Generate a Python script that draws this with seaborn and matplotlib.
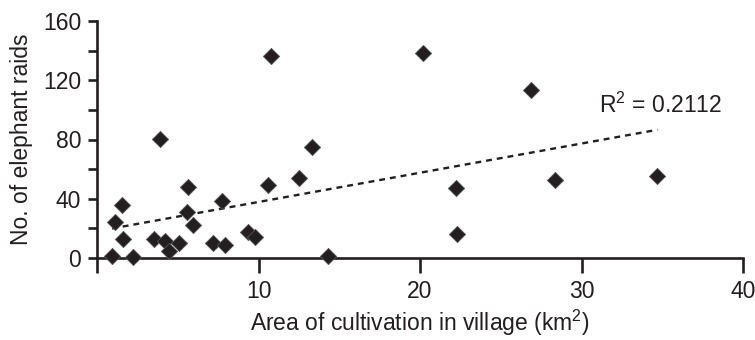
import numpy as np
import pandas as pd
import seaborn as sb
import matplotlib.pyplot as plt
from matplotlib.ticker import MultipleLocator


# площадь посевов (км2) и число набегов слонов
area = [0.93, 1.13, 1.53, 1.59, 2.25, 3.55, 3.9, 4.19, 4.48, 5.1,
	5.65, 5.59, 5.96, 7.16, 7.72, 7.95, 9.37, 9.76, 10.57, 10.77,
	12.51, 13.33, 14.32, 20.17, 26.9, 22.23, 22.27, 28.38, 34.7]
raids = [1.3, 24.5, 35.8, 13, 0.7, 12.6, 80.6, 11.3, 4.9, 10.3,
	47.8, 31.1, 22.1, 9.9, 38.5, 8.8, 17.6, 14, 49.1, 136.5,
	54, 75, 1.3, 138.7, 113.5, 47.1, 16, 52.7, 55.6]
r2_label = 'R$^2$ = 0.2112'
x_ticks = [0, 10, 20, 30, 40]

ink = '#231f20'

sb.set_style('ticks')
plt.rcParams['font.family'] = ['Liberation Sans', 'DejaVu Sans']
plt.rcParams['mathtext.fontset'] = 'custom'
plt.rcParams['mathtext.rm'] = 'Liberation Sans'
plt.rcParams['mathtext.it'] = 'Liberation Sans'
plt.rcParams['mathtext.default'] = 'rm'

df = pd.DataFrame({'area': area, 'raids': raids})

fig = plt.figure(figsize=(7.55, 3.4), dpi=100)
ax = fig.add_axes([97 / 755, 82 / 340, 646 / 755, 237 / 340])

# линия тренда + точки
sb.regplot(data=df, x='area', y='raids', ax=ax, scatter=False, ci=None,
	truncate=True, color=ink, line_kws={'lw': 1.7, 'ls': (0, (2.5, 2.1))})
sb.scatterplot(data=df, x='area', y='raids', ax=ax, marker='D', s=68,
	color=ink, edgecolor='#555555', linewidth=0.6, clip_on=False, zorder=5)

ax.set_xlim(0, 40)
ax.set_ylim(0, 160)
ax.set_xticks(x_ticks)
ax.set_xticklabels(['' if t == 0 else str(t) for t in x_ticks])
ax.yaxis.set_major_locator(MultipleLocator(40))
ax.yaxis.set_minor_locator(MultipleLocator(20))

sb.despine(ax=ax)
for s in ['left', 'bottom']:
	ax.spines[s].set_linewidth(1.9)
	ax.spines[s].set_color(ink)
ax.tick_params(axis='x', length=10.5, width=1.9, color=ink, pad=5, labelsize=16.5, labelcolor=ink)
ax.tick_params(axis='y', which='both', length=6.5, width=1.9, color=ink, pad=5, labelsize=16.5, labelcolor=ink)

ax.set_xlabel('Area of cultivation in village (km$^2$)', fontsize=16.5, color=ink, labelpad=4)
ax.set_ylabel('No. of elephant raids', fontsize=16.5, color=ink, labelpad=7)

ax.text(31.1, 98, r2_label, fontsize=16.5, color=ink, ha='left', va='baseline')

fig.savefig('out.png', dpi=100)
